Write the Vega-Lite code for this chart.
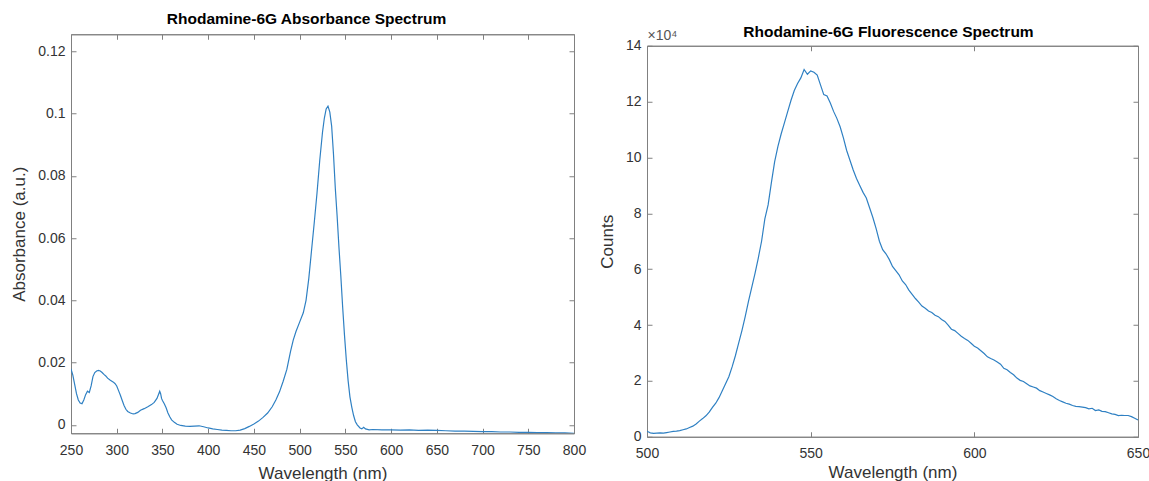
{
  "$schema": "https://vega.github.io/schema/vega-lite/v6.json",
  "padding": {"left": 10, "top": 11, "right": 5, "bottom": 0},
  "background": "white",
  "center": true,
  "datasets": {
    "abs": [
      {"wl":250,"a":0.0180},{"wl":252,"a":0.0160},{"wl":254,"a":0.0130},{"wl":256,"a":0.0100},{"wl":258,"a":0.0080},{"wl":260,"a":0.0070},{"wl":262,"a":0.0068},{"wl":264,"a":0.0080},{"wl":266,"a":0.0097},{"wl":268,"a":0.0108},{"wl":270,"a":0.0104},{"wl":272,"a":0.0125},{"wl":274,"a":0.0155},{"wl":276,"a":0.0168},{"wl":278,"a":0.0173},{"wl":280,"a":0.0175},{"wl":282,"a":0.0173},{"wl":284,"a":0.0168},{"wl":286,"a":0.0162},{"wl":288,"a":0.0157},{"wl":290,"a":0.0150},{"wl":293,"a":0.0143},{"wl":296,"a":0.0138},{"wl":298,"a":0.0133},{"wl":300,"a":0.0125},{"wl":302,"a":0.0110},{"wl":304,"a":0.0095},{"wl":306,"a":0.0078},{"wl":308,"a":0.0062},{"wl":310,"a":0.0050},{"wl":312,"a":0.0043},{"wl":315,"a":0.0038},{"wl":318,"a":0.0035},{"wl":320,"a":0.0036},{"wl":323,"a":0.0040},{"wl":326,"a":0.0047},{"wl":330,"a":0.0052},{"wl":334,"a":0.0058},{"wl":338,"a":0.0065},{"wl":341,"a":0.0072},{"wl":344,"a":0.0085},{"wl":346,"a":0.0100},{"wl":347,"a":0.0108},{"wl":348,"a":0.0100},{"wl":349,"a":0.0085},{"wl":350,"a":0.0078},{"wl":352,"a":0.0068},{"wl":354,"a":0.0055},{"wl":356,"a":0.0038},{"wl":358,"a":0.0026},{"wl":360,"a":0.0016},{"wl":363,"a":0.0008},{"wl":366,"a":0.0002},{"wl":370,"a":-0.0002},{"wl":375,"a":-0.0004},{"wl":380,"a":-0.0005},{"wl":385,"a":-0.0004},{"wl":390,"a":-0.0003},{"wl":395,"a":-0.0006},{"wl":400,"a":-0.0010},{"wl":405,"a":-0.0013},{"wl":410,"a":-0.0015},{"wl":415,"a":-0.0017},{"wl":420,"a":-0.0018},{"wl":425,"a":-0.0019},{"wl":430,"a":-0.0019},{"wl":435,"a":-0.0017},{"wl":440,"a":-0.0012},{"wl":445,"a":-0.0005},{"wl":450,"a":0.0003},{"wl":455,"a":0.0012},{"wl":460,"a":0.0024},{"wl":465,"a":0.0038},{"wl":470,"a":0.0058},{"wl":474,"a":0.0080},{"wl":478,"a":0.0106},{"wl":482,"a":0.0140},{"wl":486,"a":0.0178},{"wl":490,"a":0.0235},{"wl":493,"a":0.0272},{"wl":496,"a":0.0300},{"wl":500,"a":0.0330},{"wl":504,"a":0.0360},{"wl":507,"a":0.0400},{"wl":510,"a":0.0470},{"wl":513,"a":0.0560},{"wl":516,"a":0.0650},{"wl":519,"a":0.0745},{"wl":522,"a":0.0850},{"wl":525,"a":0.0940},{"wl":527,"a":0.0985},{"wl":529,"a":0.1015},{"wl":531,"a":0.1024},{"wl":533,"a":0.1005},{"wl":535,"a":0.0960},{"wl":537,"a":0.0870},{"wl":539,"a":0.0760},{"wl":541,"a":0.0670},{"wl":543,"a":0.0570},{"wl":545,"a":0.0480},{"wl":547,"a":0.0380},{"wl":549,"a":0.0290},{"wl":551,"a":0.0210},{"wl":553,"a":0.0142},{"wl":555,"a":0.0090},{"wl":557,"a":0.0057},{"wl":559,"a":0.0030},{"wl":561,"a":0.0010},{"wl":563,"a":0.0000},{"wl":566,"a":-0.0010},{"wl":568,"a":-0.0013},{"wl":570,"a":-0.0008},{"wl":572,"a":-0.0013},{"wl":576,"a":-0.0016},{"wl":580,"a":-0.0015},{"wl":590,"a":-0.0016},{"wl":600,"a":-0.0016},{"wl":610,"a":-0.0017},{"wl":620,"a":-0.0016},{"wl":630,"a":-0.0018},{"wl":640,"a":-0.0017},{"wl":650,"a":-0.0018},{"wl":660,"a":-0.0019},{"wl":670,"a":-0.0020},{"wl":680,"a":-0.0020},{"wl":690,"a":-0.0021},{"wl":700,"a":-0.0022},{"wl":710,"a":-0.0022},{"wl":720,"a":-0.0023},{"wl":730,"a":-0.0023},{"wl":740,"a":-0.0024},{"wl":750,"a":-0.0024},{"wl":760,"a":-0.0025},{"wl":770,"a":-0.0025},{"wl":780,"a":-0.0026},{"wl":790,"a":-0.0026},{"wl":800,"a":-0.0027}
    ],
    "fl": [
      {"wl":500,"c":2000},{"wl":501,"c":1400},{"wl":502,"c":1200},{"wl":503,"c":1300},{"wl":504,"c":1400},{"wl":505,"c":1300},{"wl":506,"c":1500},{"wl":507,"c":1700},{"wl":508,"c":1900},{"wl":509,"c":2000},{"wl":510,"c":2200},{"wl":511,"c":2500},{"wl":512,"c":2800},{"wl":513,"c":3300},{"wl":514,"c":3800},{"wl":515,"c":4600},{"wl":516,"c":5600},{"wl":517,"c":6500},{"wl":518,"c":7500},{"wl":519,"c":8800},{"wl":520,"c":10500},{"wl":521,"c":12000},{"wl":522,"c":14000},{"wl":523,"c":16500},{"wl":524,"c":19000},{"wl":525,"c":21500},{"wl":526,"c":25000},{"wl":527,"c":29000},{"wl":528,"c":33500},{"wl":529,"c":38000},{"wl":530,"c":43000},{"wl":531,"c":48500},{"wl":532,"c":53500},{"wl":533,"c":58500},{"wl":534,"c":64000},{"wl":535,"c":70000},{"wl":536,"c":78000},{"wl":537,"c":83000},{"wl":538,"c":91000},{"wl":539,"c":98500},{"wl":540,"c":104000},{"wl":541,"c":108500},{"wl":542,"c":112500},{"wl":543,"c":116500},{"wl":544,"c":120500},{"wl":545,"c":124000},{"wl":546,"c":126500},{"wl":547,"c":128500},{"wl":548,"c":131500},{"wl":549,"c":129800},{"wl":550,"c":131000},{"wl":551,"c":130500},{"wl":552,"c":129500},{"wl":553,"c":126000},{"wl":554,"c":122500},{"wl":555,"c":122000},{"wl":556,"c":119500},{"wl":557,"c":116500},{"wl":558,"c":114000},{"wl":559,"c":111000},{"wl":560,"c":107000},{"wl":561,"c":102500},{"wl":562,"c":99000},{"wl":563,"c":95500},{"wl":564,"c":92500},{"wl":565,"c":90000},{"wl":566,"c":87500},{"wl":567,"c":85500},{"wl":568,"c":82000},{"wl":569,"c":78500},{"wl":570,"c":74500},{"wl":571,"c":70000},{"wl":572,"c":67000},{"wl":573,"c":65500},{"wl":574,"c":63500},{"wl":575,"c":61000},{"wl":576,"c":59500},{"wl":577,"c":58000},{"wl":578,"c":55800},{"wl":579,"c":54500},{"wl":580,"c":52500},{"wl":581,"c":51000},{"wl":582,"c":49500},{"wl":583,"c":48200},{"wl":584,"c":46800},{"wl":585,"c":46000},{"wl":586,"c":45000},{"wl":587,"c":44500},{"wl":588,"c":43500},{"wl":589,"c":43000},{"wl":590,"c":42000},{"wl":591,"c":41300},{"wl":592,"c":40000},{"wl":593,"c":38500},{"wl":594,"c":38000},{"wl":595,"c":37000},{"wl":596,"c":36000},{"wl":597,"c":35200},{"wl":598,"c":34500},{"wl":599,"c":33500},{"wl":600,"c":32400},{"wl":601,"c":31800},{"wl":602,"c":30800},{"wl":603,"c":29800},{"wl":604,"c":28600},{"wl":605,"c":28000},{"wl":606,"c":27500},{"wl":607,"c":26800},{"wl":608,"c":26000},{"wl":609,"c":24500},{"wl":610,"c":24000},{"wl":611,"c":23000},{"wl":612,"c":22200},{"wl":613,"c":21000},{"wl":614,"c":20200},{"wl":615,"c":19800},{"wl":616,"c":19000},{"wl":617,"c":18200},{"wl":618,"c":17800},{"wl":619,"c":17400},{"wl":620,"c":16500},{"wl":621,"c":16000},{"wl":622,"c":15500},{"wl":623,"c":15000},{"wl":624,"c":14400},{"wl":625,"c":13600},{"wl":626,"c":13000},{"wl":627,"c":12500},{"wl":628,"c":12000},{"wl":629,"c":11700},{"wl":630,"c":11200},{"wl":631,"c":10900},{"wl":632,"c":10800},{"wl":633,"c":10600},{"wl":634,"c":10400},{"wl":635,"c":10000},{"wl":636,"c":10200},{"wl":637,"c":9400},{"wl":638,"c":9600},{"wl":639,"c":9100},{"wl":640,"c":9000},{"wl":641,"c":8600},{"wl":642,"c":8200},{"wl":643,"c":8000},{"wl":644,"c":7600},{"wl":645,"c":7700},{"wl":646,"c":7600},{"wl":647,"c":7600},{"wl":648,"c":7200},{"wl":649,"c":6600},{"wl":650,"c":6000}
    ]
  },
  "hconcat": [
    {
      "width": 503,
      "height": 399,
      "title": {"text": "Rhodamine-6G Absorbance Spectrum", "frame": "group", "anchor": "middle", "dx": -16},
      "data": {"name": "abs"},
      "layer": [
        {
          "mark": {"type": "line", "color": "#2f80c3", "strokeWidth": 1.2, "clip": true},
          "encoding": {
            "x": {"field": "wl", "type": "quantitative", "scale": {"domain": [250, 800], "nice": false, "zero": false},
                  "axis": {"orient": "bottom", "values": [250,300,350,400,450,500,550,600,650,700,750,800], "title": ["Wavelength (nm)", ""], "titleLineHeight": 11, "format": "d", "labelPadding": 15, "titlePadding": 8}},
            "y": {"field": "a", "type": "quantitative", "scale": {"domain": [-0.0027, 0.1255], "nice": false, "zero": false},
                  "axis": {"orient": "left", "values": [0,0.02,0.04,0.06,0.08,0.1,0.12], "title": "Absorbance (a.u.)", "format": "~g", "titlePadding": 9}}
          }
        },
        {
          "mark": {"type": "line", "opacity": 0},
          "encoding": {
            "x": {"field": "wl", "type": "quantitative", "axis": {"orient": "top", "values": [250,300,350,400,450,500,550,600,650,700,750,800], "labels": false, "title": null}},
            "y": {"field": "a", "type": "quantitative", "axis": {"orient": "right", "values": [0,0.02,0.04,0.06,0.08,0.1,0.12], "labels": false, "title": null}}
          }
        }
      ],
      "resolve": {"axis": {"x": "independent", "y": "independent"}}
    },
    {
      "width": 491,
      "height": 391,
      "title": {"text": "Rhodamine-6G Fluorescence Spectrum", "frame": "group", "anchor": "middle", "offset": -12, "dx": -4},
      "data": {"name": "fl"},
      "layer": [
        {
          "mark": {"type": "line", "color": "#2f80c3", "strokeWidth": 1.2, "clip": true},
          "encoding": {
            "x": {"field": "wl", "type": "quantitative", "scale": {"domain": [500, 650], "nice": false, "zero": false},
                  "axis": {"orient": "bottom", "values": [500,550,600,650], "title": "Wavelength (nm)", "format": "d", "labelPadding": 15, "titlePadding": 4}},
            "y": {"field": "c", "type": "quantitative", "scale": {"domain": [0, 140000], "nice": false, "zero": false},
                  "axis": {"orient": "left", "values": [0,20000,40000,60000,80000,100000,120000,140000], "title": "Counts", "labelExpr": "datum.value / 10000", "titlePadding": 9}}
          }
        },
        {
          "mark": {"type": "line", "opacity": 0},
          "encoding": {
            "x": {"field": "wl", "type": "quantitative", "axis": {"orient": "top", "values": [500,550,600,650], "labels": false, "title": "×10⁴", "titleX": 0, "titleY": -3, "titleAlign": "left", "titleBaseline": "bottom", "titleFontSize": 14, "titleColor": "#555555"}},
            "y": {"field": "c", "type": "quantitative", "axis": {"orient": "right", "values": [0,20000,40000,60000,80000,100000,120000,140000], "labels": false, "title": null}}
          }
        }
      ],
      "resolve": {"axis": {"x": "independent", "y": "independent"}}
    }
  ],
  "spacing": 10,
  "config": {
    "font": "Liberation Sans",
    "view": {"stroke": "#808080", "strokeWidth": 1},
    "axis": {
      "grid": false,
      "labelFlush": false,
      "domainColor": "#808080",
      "tickColor": "#808080",
      "tickSize": -5,
      "labelPadding": 11,
      "labelColor": "#333333",
      "labelFontSize": 14,
      "labelFont": "Liberation Sans",
      "titleColor": "#333333",
      "titleFontSize": 17,
      "titleFontWeight": "normal",
      "titleFont": "Liberation Sans"
    },
    "title": {"fontSize": 15.5, "fontWeight": "bold", "color": "#000000", "font": "Liberation Sans", "offset": 6}
  }
}
